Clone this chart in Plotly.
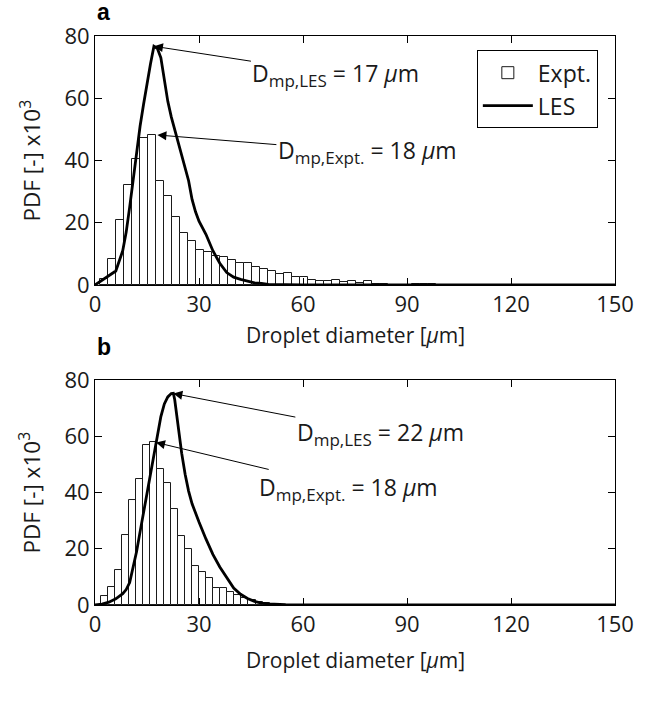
import plotly.graph_objects as go

# ---------------- data ----------------
# Panel a: experimental histogram (bin centres in um, PDF x1e3)
a_bin_width = 2.31
a_expt_d = [2.66, 4.97, 7.28, 9.59, 11.9, 14.21, 16.52, 18.83, 21.14, 23.45,
            25.76, 28.07, 30.38, 32.69, 35.0, 37.31, 39.62, 41.93, 44.24, 46.55,
            48.86, 51.17, 53.48, 55.79, 58.1, 60.41, 62.72, 65.03, 67.34, 69.65,
            71.96, 74.27, 76.58, 78.89, 81.2, 83.5, 92.7, 95.0, 97.3]
a_expt_pdf = [2.0, 8.4, 20.9, 32.0, 40.4, 47.2, 48.2, 33.5, 28.6, 21.9,
              16.8, 14.0, 11.3, 10.6, 9.3, 9.0, 8.1, 7.0, 7.0, 5.7,
              5.0, 4.5, 3.6, 3.8, 2.7, 2.7, 1.7, 1.3, 1.3, 1.7,
              1.0, 1.3, 0.5, 1.3, 0.3, 0.3, 0.3, 0.3, 0.3]
# Panel a: LES curve
a_les_d = [0, 2, 4, 6, 8, 9, 10, 11, 12, 13, 14, 15, 16, 17, 18, 19, 20, 21, 22,
           23, 24, 25, 26, 27, 28, 29, 30, 32, 34, 36, 38, 40, 42, 44, 46, 48, 50,
           55, 60, 150]
a_les_pdf = [0, 1.5, 3.0, 4.5, 11, 17, 25, 34, 43, 51, 58, 65, 71, 76.7, 76, 73,
             66, 59, 54, 49.8, 45.5, 41.5, 37.5, 33.5, 27.5, 23.5, 20.5, 16.3, 11,
             7, 4, 2.5, 1.8, 1.2, 0.7, 0.5, 0.2, 0.1, 0, 0]

# Panel b: experimental histogram
b_bin_width = 2.03
b_expt_d = [2.66, 4.69, 6.72, 8.75, 10.78, 12.81, 14.84, 16.87, 18.9, 20.93,
            22.96, 24.99, 27.02, 29.05, 31.08, 33.11, 35.14, 37.17, 39.2, 41.23,
            43.26, 45.29, 47.32, 49.35, 51.38]
b_expt_pdf = [3.3, 6.3, 12.3, 24.8, 37.5, 44.7, 56.8, 57.8, 48.2, 43.4,
              34.0, 24.5, 20.0, 13.9, 11.9, 9.6, 6.2, 6.0, 4.5, 3.5,
              2.5, 1.8, 1.2, 0.8, 0.5]
# Panel b: LES curve
b_les_d = [0, 2, 4, 6, 8, 9, 10, 11, 12, 13, 14, 15, 16, 17, 18, 19, 20, 21, 22,
           22.6, 23, 23.5, 24, 25, 26, 27, 28, 29, 30, 32, 34, 36, 38, 40, 42, 44,
           46, 48, 50, 52, 55, 60, 150]
b_les_pdf = [0, 0.3, 1.0, 2.2, 4.0, 5.5, 8, 13, 19, 26, 33, 40, 47, 54, 61, 67,
             71.5, 74, 75.2, 75.3, 73, 68, 62, 54, 46.5, 40.5, 36, 32.5, 29.5,
             23.5, 18, 13.5, 9.6, 6.0, 3.8, 2.3, 1.3, 0.7, 0.4, 0.2, 0.1, 0, 0]

x_ticks = [0, 30, 60, 90, 120, 150]
y_ticks = [0, 20, 40, 60, 80]

SUB = '<sub><span style="font-size:17px">%s</span></sub>'
# annotations: (panel, tip x, tip y, text, ax, ay)
notes = [
    ("a", 17, 76.7, "D" + SUB % "mp,LES" + " = 17 <i>μ</i>m", 182, 28),
    ("a", 18, 48.2, "D" + SUB % "mp,Expt." + " = 18 <i>μ</i>m", 210, 17),
    ("b", 22.6, 75.2, "D" + SUB % "mp,LES" + " = 22 <i>μ</i>m", 207, 40),
    ("b", 17.6, 57.8, "D" + SUB % "mp,Expt." + " = 18 <i>μ</i>m", 192, 46),
]

# ---------------- figure ----------------
FONT = "Open Sans"
TXT = "#1a1a1a"
fig = go.Figure()

bar_style = dict(marker=dict(color="white", line=dict(color="#1a1a1a", width=1)))

fig.add_trace(go.Bar(x=a_expt_d, y=a_expt_pdf, width=a_bin_width, name="Expt.",
                     xaxis="x", yaxis="y", **bar_style))
fig.add_trace(go.Scatter(x=a_les_d, y=a_les_pdf, mode="lines", name="LES",
                         line=dict(color="black", width=2.8), xaxis="x", yaxis="y"))
fig.add_trace(go.Bar(x=b_expt_d, y=b_expt_pdf, width=b_bin_width, showlegend=False,
                     xaxis="x2", yaxis="y2", **bar_style))
fig.add_trace(go.Scatter(x=b_les_d, y=b_les_pdf, mode="lines", showlegend=False,
                         line=dict(color="black", width=2.8), xaxis="x2", yaxis="y2"))

axis_common = dict(showline=True, linecolor="black", linewidth=1, mirror="ticks",
                   ticks="inside", ticklen=7, tickwidth=1, tickcolor="black",
                   showgrid=False, zeroline=False,
                   tickfont=dict(family=FONT, size=22, color=TXT))

top_dom = [0.5624, 1.0]
bot_dom = [0.0, 0.3954]

fig.update_layout(
    width=654, height=705,
    margin=dict(l=95, r=39, t=36, b=100),
    paper_bgcolor="white", plot_bgcolor="white",
    barmode="overlay", bargap=0,
    font=dict(family=FONT, size=22, color=TXT),
    xaxis=dict(domain=[0, 1], anchor="y", range=[0, 150], tickvals=x_ticks, **axis_common),
    yaxis=dict(domain=top_dom, anchor="x", range=[0, 80], tickvals=y_ticks, **axis_common),
    xaxis2=dict(domain=[0, 1], anchor="y2", range=[0, 150], tickvals=x_ticks, **axis_common),
    yaxis2=dict(domain=bot_dom, anchor="x2", range=[0, 80], tickvals=y_ticks, **axis_common),
    legend=dict(x=0.967, xanchor="right", y=0.975, yanchor="top",
                bgcolor="white", bordercolor="black", borderwidth=1,
                font=dict(family=FONT, size=23, color=TXT),
                itemwidth=50, tracegroupgap=0),
    showlegend=True,
)

anns = []
for panel, tx, ty, txt, ax, ay in notes:
    xr, yr = ("x", "y") if panel == "a" else ("x2", "y2")
    anns.append(dict(x=tx, y=ty, xref=xr, yref=yr, text=txt, showarrow=True,
                     arrowhead=2, arrowsize=1.8, arrowwidth=1, arrowcolor="black",
                     ax=ax, ay=ay, font=dict(family=FONT, size=23, color=TXT)))

for dom, tshift in ((top_dom, -50), (bot_dom, -55)):
    # y-axis title
    anns.append(dict(x=0, y=(dom[0] + dom[1]) / 2, xref="paper", yref="paper",
                     text="PDF [-] x10<sup>3</sup>", textangle=-90, showarrow=False,
                     xshift=-65, xanchor="center", yanchor="middle",
                     font=dict(family=FONT, size=22.5, color=TXT)))
    # x-axis title
    anns.append(dict(x=0.5, y=dom[0], xref="paper", yref="paper",
                     text="Droplet diameter [<i>μ</i>m]", showarrow=False,
                     yshift=tshift, xanchor="center", yanchor="middle",
                     font=dict(family=FONT, size=21, color=TXT)))

for lab, dom, ys in (("a", top_dom, 24), ("b", bot_dom, 33)):
    anns.append(dict(x=0, y=dom[1], xref="paper", yref="paper", text="<b>%s</b>" % lab,
                     showarrow=False, xanchor="left", yanchor="middle", xshift=0, yshift=ys,
                     font=dict(family="Liberation Sans", size=23, color="black")))

fig.update_layout(annotations=anns)
fig.write_html("out.html")
